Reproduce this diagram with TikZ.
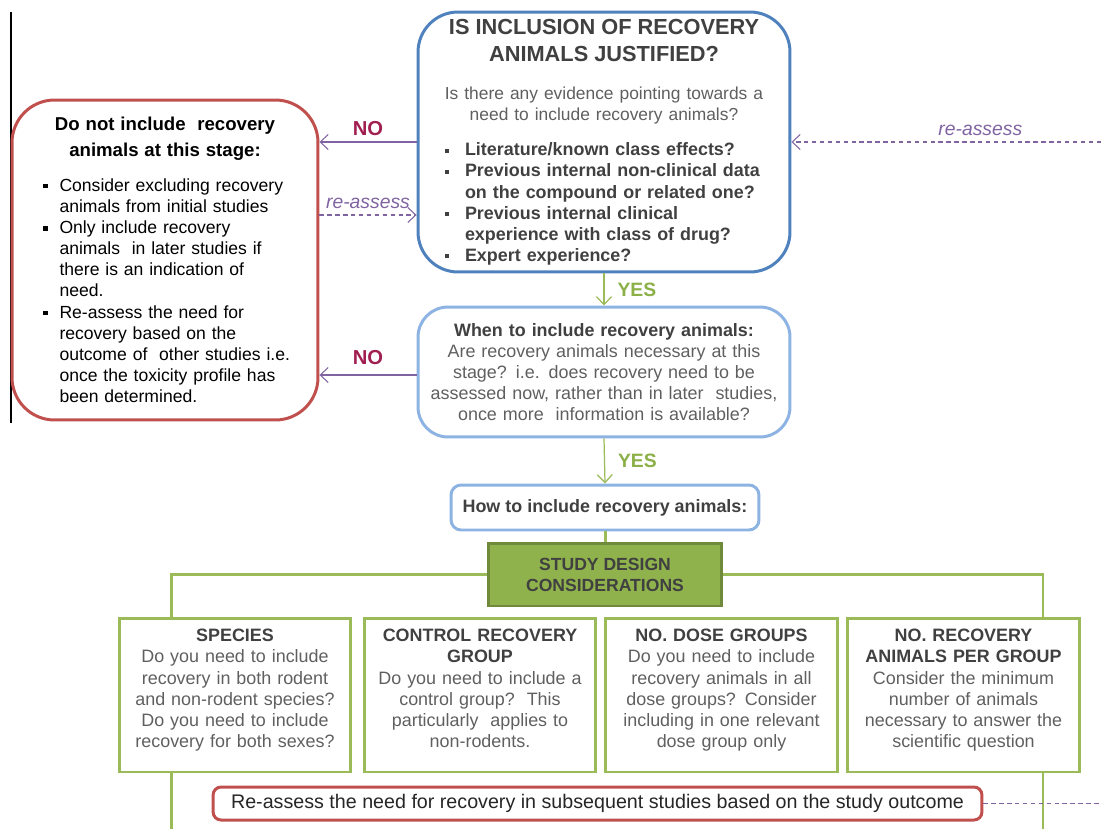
\documentclass[tikz,border=0pt]{standalone}
\usepackage{fontspec}
\setmainfont{Liberation Sans}
\usepackage{enumitem}
\usetikzlibrary{arrows.meta,positioning}

\definecolor{boxred}{RGB}{192,80,77}
\definecolor{boxblue}{RGB}{79,129,189}
\definecolor{paleblue}{RGB}{141,179,226}
\definecolor{leafgreen}{RGB}{155,187,89}
\definecolor{studyfill}{RGB}{143,178,76}
\definecolor{studyedge}{RGB}{110,138,58}
\definecolor{linkpurple}{RGB}{128,100,162}
\definecolor{nocrimson}{RGB}{160,30,80}
\definecolor{yesgreen}{RGB}{140,176,72}
\definecolor{titlegray}{RGB}{64,64,64}
\definecolor{bodygray}{RGB}{95,95,95}

\newcommand{\sqbullet}{\raisebox{1.8pt}{\rule{2.4pt}{2.4pt}}}
\newcommand{\bodyfont}{\fontsize{10.2}{12}\selectfont}

\tikzset{
  skipbox/.style={draw=boxred, line width=1.7pt, rounded corners=0.85cm,
    minimum width=6.12cm, minimum height=6.4cm, text width=5.1cm, align=left,
    font=\fontsize{10}{12}\selectfont},
  askbox/.style={draw=boxblue, line width=1.7pt, rounded corners=0.8cm,
    minimum width=7.44cm, minimum height=5.2cm, text width=6.6cm, align=left, font=\bodyfont},
  whenbox/.style={draw=paleblue, line width=1.7pt, rounded corners=0.6cm,
    minimum width=7.44cm, minimum height=2.6cm, text width=7cm, align=center,
    font=\bodyfont, text=bodygray},
  howbox/.style={draw=paleblue, line width=1.7pt, rounded corners=0.2cm,
    minimum width=6.16cm, minimum height=0.9cm, font=\bodyfont\bfseries, text=titlegray},
  studybox/.style={draw=studyedge, fill=studyfill, line width=1.7pt,
    minimum width=4.68cm, minimum height=1.26cm, align=center,
    font=\fontsize{10}{12}\selectfont\bfseries, text=titlegray},
  card/.style={draw=leafgreen, line width=1.7pt, minimum width=4.64cm, minimum height=3.08cm},
  cardtext/.style={text width=4.5cm, align=center, font=\bodyfont, text=bodygray, inner sep=0pt},
  recheck/.style={draw=boxred, line width=1.7pt, rounded corners=0.16cm,
    minimum width=15.38cm, minimum height=0.66cm, font=\fontsize{11.2}{13}\selectfont, text=black!85},
  parrow/.style={->, draw=linkpurple, line width=0.6pt},
  pdash/.style={parrow, dash pattern=on 2.5pt off 2pt},
  garrow/.style={->, draw=leafgreen, line width=0.7pt},
  gline/.style={draw=leafgreen, line width=1.7pt},
  nolabel/.style={font=\fontsize{11.5}{13}\selectfont\bfseries, text=nocrimson},
  yeslabel/.style={font=\fontsize{11}{13}\selectfont\bfseries, text=yesgreen},
  relabel/.style={font=\fontsize{11}{13}\selectfont\itshape, text=linkpurple},
}
\setlist[itemize]{label=\sqbullet, nosep}

\begin{document}
\begin{tikzpicture}[x=0.02cm, y=-0.02cm, >={Straight Barb[length=1.6mm,width=3mm]}]
\useasboundingbox (0,0) rectangle (1101,828);

\draw[line width=0.8pt] (11,12) -- (11,423);

% decision boxes
\node[skipbox] (skip) at (165,260) {%
  {\centering\bfseries\fontsize{10.6}{14.5}\selectfont Do not include\ \ recovery\\animals at this stage:\par}
  \vspace{8pt}
  \begin{itemize}[leftmargin=0.44cm, labelsep=0.24cm]
    \item Consider excluding recovery\\animals from initial studies
    \item Only include recovery\\animals\ \ in later studies if\\there is an indication of\\need.
    \item Re-assess the need for\\recovery based on the\\outcome of\ \ other studies i.e.\\once the toxicity profile has\\been determined.
  \end{itemize}};

\node[askbox] (ask) at (604,142) {%
  {\centering\bfseries\fontsize{12.4}{15.3}\selectfont\color{titlegray}IS INCLUSION OF RECOVERY\\ANIMALS JUSTIFIED?\par}
  \vspace{10pt}
  {\centering\fontsize{9.9}{12}\selectfont\color{bodygray}Is there any evidence pointing towards a\\need to include recovery animals?\par}
  \vspace{8pt}
  {\bfseries\color{titlegray}
  \begin{itemize}[leftmargin=0.52cm, labelsep=0.32cm]
    \item Literature/known class effects?
    \item Previous internal non-clinical data\\on the compound or related one?
    \item Previous internal clinical\\experience with class of drug?
    \item Expert experience?
  \end{itemize}}};

\node[whenbox] (when) at (604,372) {%
  {\color{titlegray}\bfseries When to include recovery animals:}\\
  Are recovery animals necessary at this\\stage? i.e. does recovery need to be\\
  assessed now, rather than in later\ \ studies,\\once more\ \ information is available?};

\node[howbox] (how) at (605,507.5) {How to include recovery animals:};
\node[studybox] (study) at (605,574.5) {STUDY DESIGN\\CONSIDERATIONS};

% study design cards
\node[card] (species) at (235,695) {};
\node[card] (control) at (480,695) {};
\node[card] (dose) at (721.5,695) {};
\node[card] (pergroup) at (963.5,695) {};
\node[cardtext, below=0.25cm of species.north] (speciestxt) {%
  {\color{titlegray}\bfseries SPECIES}\\Do you need to include\\recovery in both rodent\\and non-rodent species?\\Do you need to include\\recovery for both sexes?};
\node[cardtext, below=0.25cm of control.north] (controltxt) {%
  {\color{titlegray}\bfseries CONTROL RECOVERY\\GROUP}\\Do you need to include a\\control group?\ \ This\\particularly\ \ applies to\\non-rodents.};
\node[cardtext, below=0.25cm of dose.north] (dosetxt) {%
  {\color{titlegray}\bfseries NO. DOSE GROUPS}\\Do you need to include\\recovery animals in all\\dose groups? Consider\\including in one relevant\\dose group only};
\node[cardtext, below=0.25cm of pergroup.north] (pergrouptxt) {%
  {\color{titlegray}\bfseries NO. RECOVERY\\ANIMALS PER GROUP}\\Consider the minimum\\number of animals\\necessary to answer the\\scientific question};

\node[recheck] (recheck) at (597.5,803.5) {Re-assess the need for recovery in subsequent studies based on the study outcome};

\coordinate (asktail) at (1101,142);
\coordinate (rechecktail) at (1101,803.5);

% connectors
\draw[parrow] (ask.west) -- node[nolabel, above] {NO} (ask.west -| skip.east);
\draw[pdash] ([yshift=-1.46cm]ask.west -| skip.east) -- node[relabel, above] {re-assess} ([yshift=-1.46cm]ask.west);
\draw[pdash] (asktail) -- node[relabel, above, pos=0.39] {re-assess} (ask.east);
\draw[parrow] ([yshift=-0.06cm]when.west) -- node[nolabel, above=2pt] {NO} ([yshift=-0.06cm]when.west -| skip.east);
\draw[garrow] (ask.south) -- node[yeslabel, right=4pt] {YES} (when.north);
\draw[garrow] (when.south) -- node[yeslabel, right=4pt] {YES} (how.north);
\draw[gline] (how) -- (study);
\draw[gline] ([xshift=-1.28cm]species.north) |- (study.west);
\draw[gline] (study.east) -| ([xshift=1.59cm]pergroup.north);
\draw[gline] ([xshift=-1.28cm]species.south) -- ++(0,56);
\draw[gline] ([xshift=1.59cm]pergroup.south) -- ++(0,56);
\draw[pdash, -] (recheck.east) -- (rechecktail);
\end{tikzpicture}
\end{document}
